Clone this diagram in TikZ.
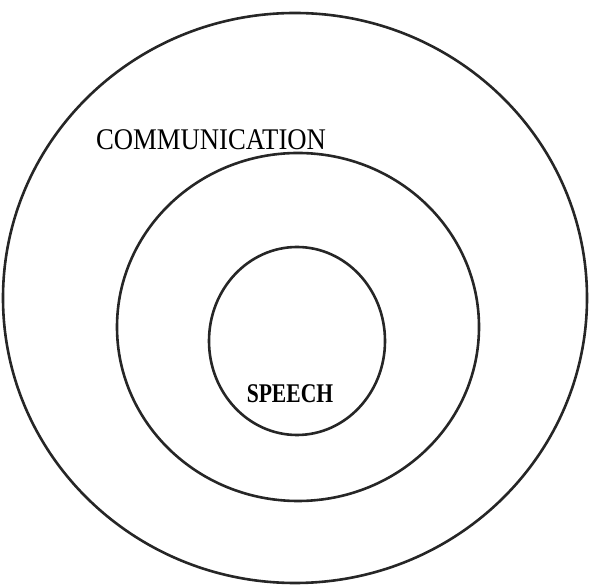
\documentclass[tikz,border=0pt]{standalone}
\usepackage{fontspec}
\setmainfont{Liberation Serif}
\usetikzlibrary{positioning}

\begin{document}
\begin{tikzpicture}[
  x=1pt, y=1pt,
  ring/.style={draw=black!85, line width=2.6pt},
  label/.style={anchor=base, inner sep=0pt},
]
  \useasboundingbox (0,0) rectangle (589,586);

  % the three rings
  \draw[ring] (295,288) ellipse [x radius=292, y radius=285];
  \draw[ring] (298,259) ellipse [x radius=181, y radius=174];
  \draw[ring] (297,245) ellipse [x radius=88, y radius=94];

  \node[label, xscale=0.89, font=\fontsize{30}{32}\selectfont] (comm) at (211,436) {COMMUNICATION};
  \node[label, xscale=0.8, font=\fontsize{27}{29}\selectfont\bfseries] (speech) at (290,183) {SPEECH};
\end{tikzpicture}
\end{document}
